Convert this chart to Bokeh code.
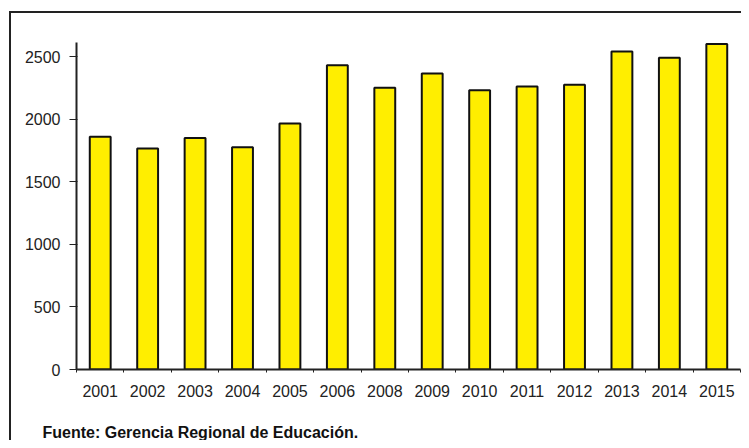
from bokeh.plotting import figure
from bokeh.models import FixedTicker, Title, Range1d
from bokeh.embed import file_html
from bokeh.resources import INLINE

years = ["2001", "2002", "2003", "2004", "2005", "2006", "2008", "2009",
         "2010", "2011", "2012", "2013", "2014", "2015"]
values = [1860, 1765, 1850, 1775, 1965, 2430, 2250, 2365, 2230, 2260, 2275, 2540, 2490, 2600]
y_ticks = [0, 500, 1000, 1500, 2000, 2500]
source_note = "Fuente: Gerencia Regional de Educación."

n = len(years)
centers = [i + 0.5 for i in range(n)]

box_css = (":host { background: "
           "linear-gradient(#222222, #222222) 9px 11px / 2px calc(100% - 11px) no-repeat, "
           "linear-gradient(#222222, #222222) 9px 11px / calc(100% - 9px) 2px no-repeat, "
           "#ffffff; }")

p = figure(width=741, height=440, output_backend="svg", toolbar_location=None,
           x_range=Range1d(0, n), y_range=Range1d(0, 2612),
           min_border_left=76, min_border_right=1, min_border_top=42, min_border_bottom=70,
           stylesheets=[box_css])

p.vbar(x=centers, top=values, width=0.44, fill_color="#FFEE00",
       line_color="#111111", line_width=2)

p.xgrid.visible = False
p.ygrid.visible = False
p.outline_line_color = None
p.background_fill_color = "white"
p.border_fill_alpha = 0

xa = p.xaxis[0]
xa.ticker = FixedTicker(ticks=centers, minor_ticks=list(range(n + 1)))
xa.major_label_overrides = {c: y for c, y in zip(centers, years)}
xa.major_tick_line_color = None
xa.major_tick_out = 0
xa.major_tick_in = 0
xa.minor_tick_out = 3
xa.minor_tick_in = 0
xa.minor_tick_line_color = "#222222"
xa.axis_line_color = "#222222"
xa.axis_line_width = 2
xa.major_label_text_font = "Liberation Sans"
xa.major_label_text_font_size = "16px"
xa.major_label_text_color = "#222222"
xa.major_label_standoff = 12
# invisible spacer between tick labels and the source note
xa.axis_label = " "
xa.axis_label_text_font_size = "1px"
xa.axis_label_standoff = 18

ya = p.yaxis[0]
ya.ticker = FixedTicker(ticks=y_ticks, minor_ticks=[])
ya.major_tick_out = 7
ya.major_tick_in = 1
ya.major_tick_line_color = "#222222"
ya.axis_line_color = "#222222"
ya.axis_line_width = 2
ya.major_label_text_font = "Liberation Sans"
ya.major_label_text_font_size = "16px"
ya.major_label_text_color = "#222222"
ya.major_label_standoff = 9

note = Title(text=source_note, align="left", offset=-34,
             text_font="Liberation Sans", text_font_size="16px",
             text_font_style="bold", text_color="#111111", standoff=0)
p.add_layout(note, "below")

open("out.html", "w").write(file_html(p, INLINE))
